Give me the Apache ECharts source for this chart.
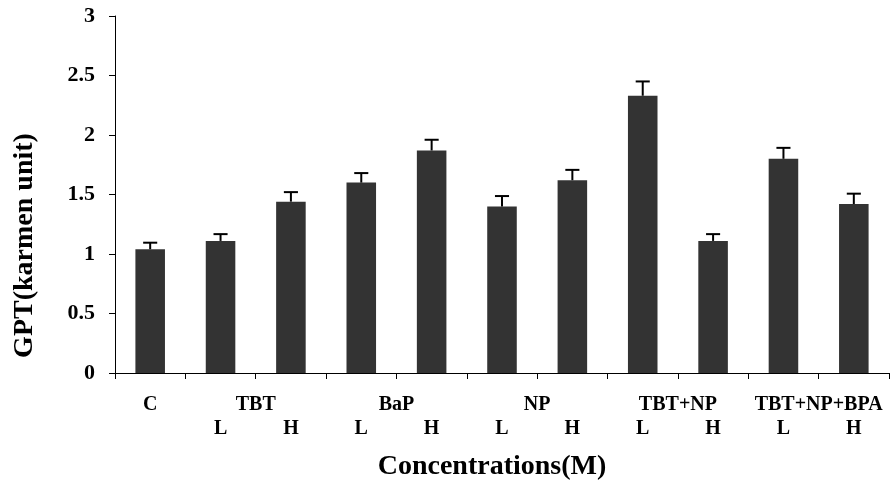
<!DOCTYPE html>
<html>
<head>
<meta charset="utf-8">
<script src="https://cdn.jsdelivr.net/npm/echarts@6/dist/echarts.min.js"></script>
<style>
html,body{margin:0;padding:0;background:#fff;}
#chart{width:896px;height:487px;}
</style>
</head>
<body>
<div id="chart"></div>
<script>
const categories = ['C','TBT L','TBT H','BaP L','BaP H','NP L','NP H','TBT+NP L','TBT+NP H','TBT+NP+BPA L','TBT+NP+BPA H'];
const values = [1.04, 1.11, 1.44, 1.60, 1.87, 1.40, 1.62, 2.33, 1.11, 1.80, 1.42];
const errors = [0.055, 0.057, 0.08, 0.08, 0.09, 0.087, 0.087, 0.12, 0.057, 0.092, 0.087];
const levelLabels = ['', 'L','H','L','H','L','H','L','H','L','H'];
const groupLabels = ['C','TBT','BaP','NP','TBT+NP','TBT+NP+BPA'];
const groupPositions = [0.5, 2, 4, 6, 8, 10];
const yTicks = { min: 0, max: 3, interval: 0.5 };

const FONT = '"Liberation Serif", "Times New Roman", serif';
const chart = echarts.init(document.getElementById('chart'), null, {renderer: 'canvas'});

const errData = values.map((v, i) => [i, v, errors[i]]);

chart.setOption({
  backgroundColor: '#fff',
  animation: false,
  grid: { left: 115, right: 7, top: 16, bottom: 114, containLabel: false },
  xAxis: [
    {
      type: 'category',
      data: categories,
      boundaryGap: true,
      axisLine: { show: true, lineStyle: { color: '#000', width: 1 } },
      axisTick: { show: true, length: 6, alignWithLabel: false, lineStyle: { color: '#000' } },
      axisLabel: {
        interval: 0, margin: 46,
        fontFamily: FONT, fontWeight: 'bold', fontSize: 20, color: '#000',
        formatter: (v, i) => levelLabels[i]
      },
      name: 'Concentrations(M)',
      nameLocation: 'middle',
      nameGap: 80,
      nameTextStyle: { fontFamily: FONT, fontWeight: 'bold', fontSize: 28, color: '#000', padding: [0, 20, 0, 0] },
      splitLine: { show: false }
    },
    {
      type: 'value',
      position: 'bottom',
      min: 0, max: categories.length, interval: 0.5,
      axisLine: { show: false }, axisTick: { show: false }, splitLine: { show: false },
      axisLabel: {
        margin: 22, showMinLabel: true, showMaxLabel: true,
        fontFamily: FONT, fontWeight: 'bold', fontSize: 20, color: '#000',
        formatter: (v) => {
          const k = groupPositions.indexOf(v);
          return k >= 0 ? groupLabels[k] : '';
        }
      }
    }
  ],
  yAxis: {
    type: 'value',
    min: yTicks.min, max: yTicks.max, interval: yTicks.interval,
    axisLine: { show: true, lineStyle: { color: '#000', width: 1 } },
    axisTick: { show: true, length: 6, lineStyle: { color: '#000' } },
    splitLine: { show: false },
    axisLabel: { margin: 20, fontFamily: FONT, fontWeight: 'bold', fontSize: 22, color: '#000' },
    name: 'GPT(karmen unit)',
    nameLocation: 'middle',
    nameGap: 76,
    nameRotate: 90,
    nameTextStyle: { fontFamily: FONT, fontWeight: 'bold', fontSize: 28, color: '#000', padding: [0, 102, 0, 0] }
  },
  series: [
    {
      type: 'bar',
      data: values,
      barWidth: '42%',
      itemStyle: { color: '#333333' },
      xAxisIndex: 0, yAxisIndex: 0,
      z: 2
    },
    {
      type: 'custom',
      xAxisIndex: 0, yAxisIndex: 0,
      data: errData,
      z: 3,
      renderItem: function (params, api) {
        const i = api.value(0);
        const v = api.value(1);
        const e = api.value(2);
        const base = api.coord([i, v]);
        const top = api.coord([i, v + e]);
        const cap = api.size([1, 0])[0] * 0.2 / 2;
        const style = { stroke: '#000', lineWidth: 2 };
        return {
          type: 'group',
          children: [
            { type: 'line', shape: { x1: base[0], y1: base[1], x2: top[0], y2: top[1] }, style: style },
            { type: 'line', shape: { x1: top[0] - cap, y1: top[1], x2: top[0] + cap, y2: top[1] }, style: style }
          ]
        };
      }
    }
  ]
});
</script>
</body>
</html>
